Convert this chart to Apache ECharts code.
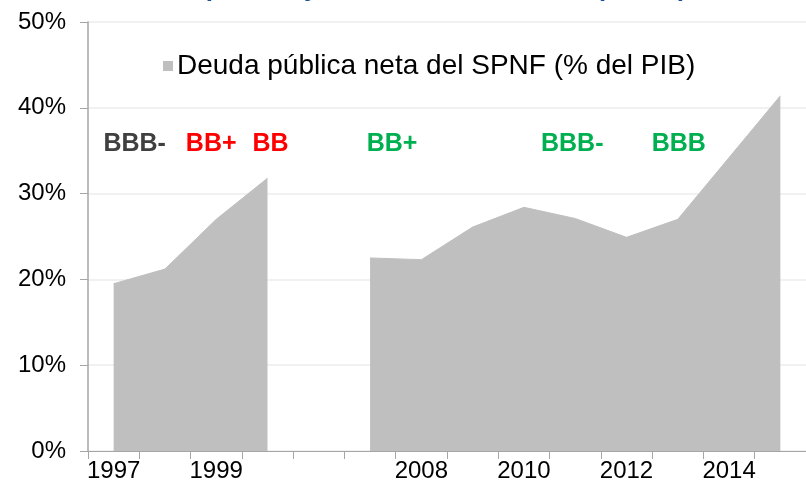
<!DOCTYPE html>
<html>
<head>
<meta charset="utf-8">
<script src="https://cdn.jsdelivr.net/npm/echarts@6/dist/echarts.min.js"></script>
<style>
  html, body { margin: 0; padding: 0; background: #fff; }
  #chart { width: 806px; height: 492px; }
</style>
</head>
<body>
<div id="chart"></div>
<script>
// years on the category axis (blank slot marks the gap 2001-2006)
var years = ['1997', '1998', '1999', '2000', '', '2007', '2008', '2009', '2010', '2011', '2012', '2013', '2014', '2015'];
// net public debt of the SPNF, % of GDP
var debt = [19.5, 21.2, 27.0, 31.8, null, 22.5, 22.3, 26.1, 28.4, 27.1, 24.9, 27.0, 34.2, 41.4];

// credit ratings written over the chart
var ratingNames = ['BBB-', 'BB+', 'BB', 'BB+', 'BBB-', 'BBB'];
var ratingYear = ['1997', '1999', '2000', '2007', '2011', '2013'];
var ratingShift = [21, -5, 3, 22, -3, 1];
var ratingColor = ['#404040', '#ff0000', '#ff0000', '#00b050', '#00b050', '#00b050'];
var ratingLevel = 35.8;

var chart = echarts.init(document.getElementById('chart'));

var ratingData = ratingNames.map(function (name, i) {
  return {
    value: [ratingYear[i], ratingLevel],
    label: { formatter: name, color: ratingColor[i], offset: [ratingShift[i], 0] }
  };
});

var font = '"Liberation Sans", Arial, sans-serif';

var option = {
  animation: false,
  textStyle: { fontFamily: font },
  title: {
    text: 'Deuda pública y calificación crediticia (% PIB)',
    left: 'center',
    top: -29,
    textStyle: { color: '#1f4e99', fontSize: 26, fontWeight: 'bold', fontFamily: font }
  },
  legend: {
    data: ['Deuda pública neta del SPNF (% del PIB)'],
    left: 158,
    top: 47,
    icon: 'rect',
    itemWidth: 10,
    itemHeight: 10,
    itemGap: 5,
    textStyle: { fontSize: 28, color: '#000', padding: [0, 0, 0, -1] }
  },
  grid: { left: 88, right: -5, top: 22, bottom: 41, containLabel: false },
  xAxis: {
    type: 'category',
    data: years,
    boundaryGap: true,
    axisLine: { lineStyle: { color: '#a6a6a6', width: 1 } },
    axisTick: { show: true, length: 8, interval: 0, lineStyle: { color: '#a6a6a6' } },
    axisLabel: { interval: 1, fontSize: 24, color: '#000', margin: 8 },
    splitLine: { show: false }
  },
  yAxis: {
    type: 'value',
    min: 0,
    max: 50,
    interval: 10,
    axisLine: { show: true, lineStyle: { color: '#a6a6a6', width: 1.5 } },
    axisTick: { show: true, length: 8, lineStyle: { color: '#a6a6a6' } },
    axisLabel: { fontSize: 24, color: '#000', margin: 22, formatter: '{value}%' },
    splitLine: { lineStyle: { color: '#ececec', width: 1.5 } }
  },
  series: [
    {
      name: 'Deuda pública neta del SPNF (% del PIB)',
      type: 'line',
      data: debt,
      connectNulls: false,
      symbol: 'none',
      itemStyle: { color: '#bfbfbf' },
      lineStyle: { color: '#bfbfbf', width: 1 },
      areaStyle: { color: '#bfbfbf', opacity: 1 }
    },
    {
      name: 'ratings',
      type: 'scatter',
      data: ratingData,
      symbolSize: 0,
      silent: true,
      itemStyle: { opacity: 1 },
      label: {
        show: true,
        position: 'inside',
        fontSize: 25,
        fontWeight: 'bold',
        fontFamily: font
      }
    }
  ]
};

chart.setOption(option);
</script>
</body>
</html>
